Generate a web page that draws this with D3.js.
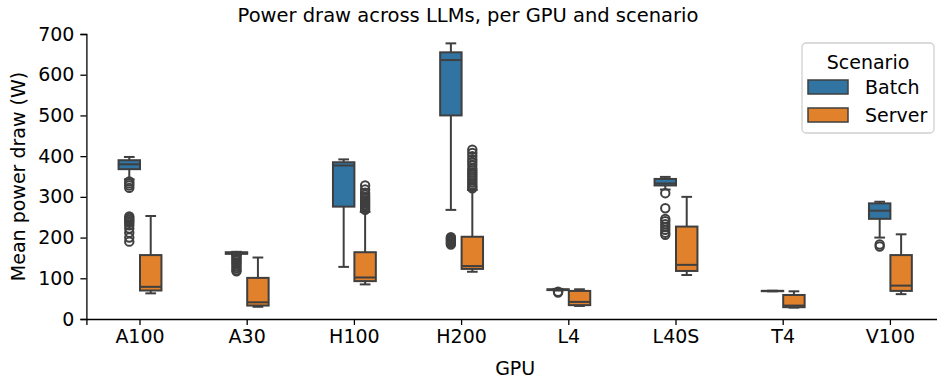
<!DOCTYPE html>
<html>
<head>
<meta charset="utf-8">
<script src="https://cdn.jsdelivr.net/npm/d3@7"></script>
<style>
  body { margin: 0; background: #fff; }
  text { font-family: "DejaVu Sans", sans-serif; fill: #000; }
</style>
</head>
<body>
<div id="app"></div>
<script>
const WIDTH = 937;
const HEIGHT = 383;
const FONT = '19px';

const gpus = ['A100', 'A30', 'H100', 'H200', 'L4', 'L40S', 'T4', 'V100'];
const scenarios = ['Batch', 'Server'];
const yTicks = [0, 100, 200, 300, 400, 500, 600, 700];

// [whisker low, q1, median, q3, whisker high]
const batchStats = [
  [343, 368, 380, 390, 398],
  [158, 160, 162, 164, 165],
  [128, 276, 377, 385, 392],
  [268, 500, 636, 655, 677],
  [70, 71, 72, 73, 74],
  [318, 328, 333, 344, 349],
  [68, 68.3, 68.8, 69.2, 69.5],
  [200, 246, 266, 284, 288]
];
const serverStats = [
  [63, 70, 79, 157, 253],
  [30, 33, 41, 101, 151],
  [85, 93, 102, 164, 263],
  [116, 123, 130, 202, 317],
  [32, 34, 42, 69, 73],
  [108, 118, 133, 227, 300],
  [28, 29, 33, 59, 68],
  [61, 69, 82, 157, 208]
];

const batchFliers = [
  [338, 333, 328, 322, 252, 248, 244, 240, 236, 230, 222, 212, 200, 190],
  [155, 151, 147, 143, 139, 135, 130, 125, 120, 117],
  [],
  [201, 198, 195, 192, 189, 186, 183],
  [67, 65],
  [309, 272, 246, 240, 233, 226, 219, 212, 207],
  [],
  [183, 178]
];
const serverFliers = [
  [],
  [],
  [268, 272, 276, 280, 284, 288, 292, 296, 300, 305, 310, 318, 328],
  [321, 325, 330, 335, 340, 345, 350, 355, 360, 365, 370, 378, 385, 392, 400, 408, 416],
  [],
  [],
  [],
  []
];

const colors = { Batch: '#3274a1', Server: '#e1812c' };
const LINE = '#3f3f3f';

const margin = { left: 86.4, right: -7, top: 34, bottom: 64 };

const svg = d3.select('#app')
  .append('svg')
  .attr('width', WIDTH)
  .attr('height', HEIGHT);

const x = d3.scaleBand()
  .domain(gpus)
  .range([margin.left, WIDTH - margin.right])
  .padding(0);

const hue = d3.scaleBand()
  .domain(scenarios)
  .range([-x.bandwidth() * 0.2, x.bandwidth() * 0.2])
  .padding(0);

const y = d3.scaleLinear()
  .domain([0, 700])
  .range([HEIGHT - margin.bottom, margin.top]);

// axes
const xAxis = svg.append('g')
  .attr('transform', `translate(0,${y(0)})`)
  .call(d3.axisBottom(x).tickSizeOuter(0).tickSize(6).tickPadding(5));

const yAxis = svg.append('g')
  .attr('transform', `translate(${margin.left},0)`)
  .call(d3.axisLeft(y).tickValues(yTicks).tickSizeOuter(0).tickSize(6).tickPadding(6));

[xAxis, yAxis].forEach(a => {
  a.selectAll('path, line').attr('stroke', '#000').attr('stroke-width', 1.3);
  a.selectAll('text')
    .style('font-family', '"DejaVu Sans", sans-serif')
    .style('font-size', FONT)
    .attr('fill', '#000');
});

// boxes
const groups = [];
gpus.forEach((g, i) => {
  groups.push({ gpu: g, scenario: 'Batch', stats: batchStats[i], fliers: batchFliers[i] });
  groups.push({ gpu: g, scenario: 'Server', stats: serverStats[i], fliers: serverFliers[i] });
});

const boxW = hue.bandwidth();

const boxes = svg.append('g').attr('id', 'boxes')
  .selectAll('g.box')
  .data(groups)
  .join('g')
  .attr('class', 'box')
  .attr('transform', d => `translate(${x(d.gpu) + x.bandwidth() / 2 + hue(d.scenario) + boxW / 2},0)`);

// whiskers
boxes.append('line')
  .attr('x1', 0).attr('x2', 0)
  .attr('y1', d => y(d.stats[0])).attr('y2', d => y(d.stats[1]))
  .attr('stroke', LINE).attr('stroke-width', 2);
boxes.append('line')
  .attr('x1', 0).attr('x2', 0)
  .attr('y1', d => y(d.stats[3])).attr('y2', d => y(d.stats[4]))
  .attr('stroke', LINE).attr('stroke-width', 2);

// caps
[0, 4].forEach(k => {
  boxes.append('line')
    .attr('x1', -boxW / 4).attr('x2', boxW / 4)
    .attr('y1', d => y(d.stats[k])).attr('y2', d => y(d.stats[k]))
    .attr('stroke', LINE).attr('stroke-width', 2);
});

boxes.append('rect')
  .attr('x', -boxW / 2)
  .attr('width', boxW)
  .attr('y', d => y(d.stats[3]))
  .attr('height', d => Math.max(0, y(d.stats[1]) - y(d.stats[3])))
  .attr('fill', d => colors[d.scenario])
  .attr('stroke', LINE)
  .attr('stroke-width', 2);

boxes.append('line')
  .attr('x1', -boxW / 2).attr('x2', boxW / 2)
  .attr('y1', d => y(d.stats[2])).attr('y2', d => y(d.stats[2]))
  .attr('stroke', LINE).attr('stroke-width', 2);

boxes.selectAll('circle.flier')
  .data(d => d.fliers)
  .join('circle')
  .attr('class', 'flier')
  .attr('cx', 0)
  .attr('cy', v => y(v))
  .attr('r', 4.2)
  .attr('fill', 'none')
  .attr('stroke', LINE)
  .attr('stroke-width', 2);

// labels
svg.append('text')
  .attr('x', 468)
  .attr('y', 22)
  .attr('text-anchor', 'middle')
  .style('font-size', '19.5px')
  .text('Power draw across LLMs, per GPU and scenario');

svg.append('text')
  .attr('x', (margin.left + WIDTH - margin.right) / 2)
  .attr('y', 375)
  .attr('text-anchor', 'middle')
  .style('font-size', FONT)
  .text('GPU');

svg.append('text')
  .attr('transform', `translate(25,${(y(0) + y(700)) / 2}) rotate(-90)`)
  .attr('text-anchor', 'middle')
  .style('font-size', FONT)
  .text('Mean power draw (W)');

// legend
const legend = svg.append('g').attr('transform', 'translate(802,43)');
legend.append('rect')
  .attr('width', 132).attr('height', 90)
  .attr('rx', 4)
  .attr('fill', '#fff').attr('fill-opacity', 0.8)
  .attr('stroke', '#d0d0d0').attr('stroke-width', 1.3);
legend.append('text')
  .attr('x', 66).attr('y', 26)
  .attr('text-anchor', 'middle')
  .style('font-size', FONT)
  .text('Scenario');
const items = legend.selectAll('g.item')
  .data(scenarios)
  .join('g')
  .attr('class', 'item')
  .attr('transform', (d, i) => `translate(6,${37 + i * 28})`);
items.append('rect')
  .attr('width', 40).attr('height', 14)
  .attr('fill', d => colors[d])
  .attr('stroke', LINE).attr('stroke-width', 1.5);
items.append('text')
  .attr('x', 57).attr('y', 14)
  .style('font-size', FONT)
  .text(d => d);
</script>
</body>
</html>
